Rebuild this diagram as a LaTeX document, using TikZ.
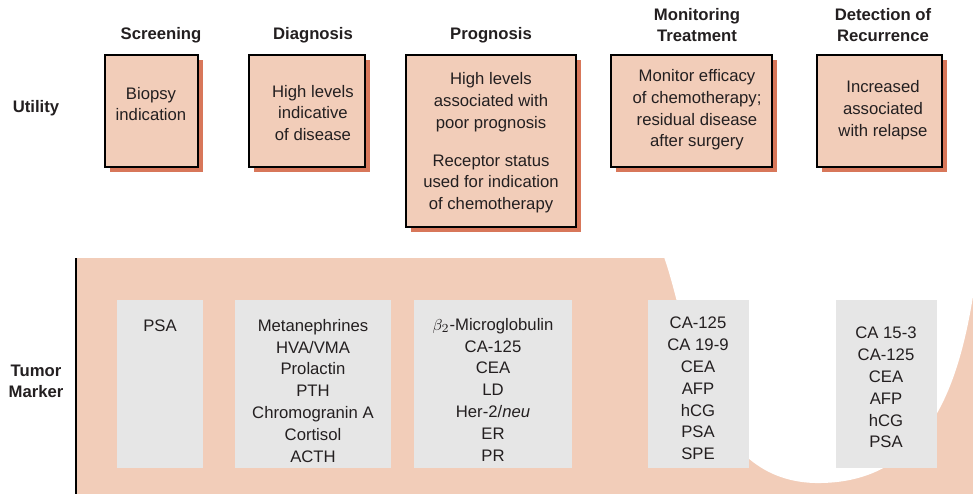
\documentclass[tikz,border=0pt]{standalone}
\usepackage{fontspec}
\setmainfont{Liberation Sans}
\definecolor{salm}{HTML}{F2CDB9}
\definecolor{shad}{HTML}{D8775A}
\definecolor{gbox}{HTML}{E6E6E6}
\definecolor{txt}{HTML}{231F20}
\begin{document}
\begin{tikzpicture}[x=0.02cm,y=-0.02cm,
  every node/.style={text=txt,font=\fontsize{9.5}{12.4}\selectfont},
  hdr/.style={font=\fontsize{9.5}{12}\selectfont\bfseries,align=center},
  lst/.style={align=center,anchor=north}]
\useasboundingbox (0,0) rectangle (973,494);
% utility boxes
\newcommand{\ubox}[5]{%
  \fill[shad] (#1+5,#3+5) rectangle (#2+5,#4+5);
  \draw[fill=salm,line width=0.6pt] (#1,#3) rectangle (#2,#4);
  \node[align=center] (#5) at ({(#1+#2)/2},{(#3+#4)/2}) {};}
\ubox{105}{198}{55}{167}{b1}
\ubox{249}{365}{55}{167}{b2}
\ubox{406}{576}{55}{227}{b3}
\ubox{611}{772}{55}{167}{b4}
\ubox{817}{942}{55}{167}{b5}
\node[align=center] (t1) at (151,104) {Biopsy\\indication};
\node[align=center] (t2) at (313,113) {High levels\\indicative\\of disease};
\node[align=center] (t3) at (491,143) {High levels\\associated with\\poor prognosis\\[9pt]Receptor status\\used for indication\\of chemotherapy};
\node[align=center] (t4) at (697,110) {Monitor efficacy\\of chemotherapy;\\residual disease\\after surgery};
\node[align=center] (t5) at (883,110) {Increased\\associated\\with relapse};
\node[hdr] (h1) at (161,35) {Screening};
\node[hdr] (h2) at (313,35) {Diagnosis};
\node[hdr] (h3) at (491,35) {Prognosis};
\node[hdr] (h4) at (697,25) {Monitoring\\Treatment};
\node[hdr] (h5) at (883,25) {Detection of\\Recurrence};
\node[hdr] (u) at (36,108) {Utility};
\node[hdr] (tm) at (36,381) {Tumor\\Marker};
% tumor marker region
\fill[salm] (76,258) rectangle (973,494);
\fill[white] (664,257) .. controls (690,330) and (700,480) .. (815,483)
  .. controls (930,485) and (960,380) .. (974,290) -- (974,257) -- cycle;
\draw[line width=0.6pt] (76,258) -- (76,494);
\foreach \a/\b in {117/203,235/391,414/572,648/749,836/937}
  \fill[gbox] (\a,300) rectangle (\b,468);
\node[lst] (m1) at (160,314) {PSA};
\node[lst] (m2) at (313,313) {Metanephrines\\HVA/VMA\\Prolactin\\PTH\\Chromogranin A\\Cortisol\\ACTH};
\node[lst] (m3) at (493,312) {$\beta_2$-Microglobulin\\CA-125\\CEA\\LD\\Her-2/\textit{neu}\\ER\\PR};
\node[lst] (m4) at (698,311) {CA-125\\CA 19-9\\CEA\\AFP\\hCG\\PSA\\SPE};
\node[lst] (m5) at (886,321) {CA 15-3\\CA-125\\CEA\\AFP\\hCG\\PSA};
\end{tikzpicture}
\end{document}
